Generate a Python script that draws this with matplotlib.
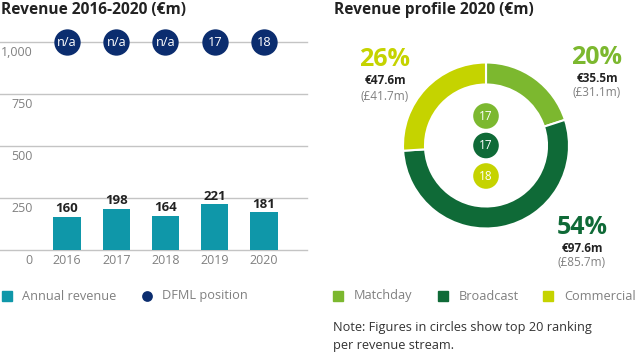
import matplotlib
matplotlib.use('Agg')
import matplotlib.pyplot as plt
import matplotlib.transforms as mtransforms
from matplotlib.patches import Rectangle

plt.rcParams['font.family'] = ['Open Sans', 'DejaVu Sans']

# ── data ──────────────────────────────────────────────────────
years    = ['2016', '2017', '2018', '2019', '2020']
revenue  = [160, 198, 164, 221, 181]
dfml_pos = ['n/a', 'n/a', 'n/a', '17', '18']
yticks   = [0, 250, 500, 750, 1000]
ytick_lbl = ['0', '250', '500', '750', '1,000']

streams   = ['Matchday', 'Broadcast', 'Commercial']
shares    = [20, 54, 26]
eur_vals  = ['€35.5m', '€97.6m', '€47.6m']
gbp_vals  = ['(£31.1m)', '(£85.7m)', '(£41.7m)']
rankings  = ['17', '17', '18']

TEAL, NAVY = '#0f97a9', '#0b2d6f'
GREENS = ['#7cb82f', '#0f6a37', '#c5d300']
GREY, GRID, DARK = '#808080', '#c4c4c4', '#222222'

W, H = 640, 354
fig = plt.figure(figsize=(W/100, H/100), dpi=100)

def px(x0, y0, w, h):  # pixel box (top-left origin) -> fig fraction
    return [x0/W, 1 - (y0 + h)/H, w/W, h/H]

# ── left: bar chart ──────────────────────────────────────────
ax = fig.add_axes(px(0, 42, 307, 208))
x = list(range(len(years)))
ax.bar(x, revenue, width=0.55, color=TEAL, zorder=2)
ax.set_xlim(-1.36, 4.873); ax.set_ylim(0, 1000)
for s in ax.spines.values(): s.set_visible(False)
ax.set_xticks([]); ax.set_yticks([])
for t in yticks:
    ax.axhline(t, color=GRID, lw=1, zorder=1, clip_on=False)

blend = mtransforms.blended_transform_factory(ax.transAxes, ax.transData)
for t, lbl in zip(yticks, ytick_lbl):
    tr = mtransforms.offset_copy(blend, fig=fig, x=0, y=-10, units='dots')
    ax.text(33/307, t, lbl, transform=tr, ha='right', va='center',
            fontsize=9, color=GREY)
for i, (yr, v) in enumerate(zip(years, revenue)):
    tr = mtransforms.offset_copy(ax.transData, fig=fig, x=0, y=-11, units='dots')
    ax.text(i, 0, yr, transform=tr, ha='center', va='center', fontsize=9, color=GREY)
    tr = mtransforms.offset_copy(ax.transData, fig=fig, x=0, y=4.5, units='dots')
    ax.text(i, v, str(v), transform=tr, ha='center', va='baseline',
            fontsize=9.5, fontweight='bold', color=DARK)

ax.scatter(x, [1000]*len(x), s=360, color=NAVY, zorder=5, clip_on=False, lw=0)
for i, p in enumerate(dfml_pos):
    ax.text(i, 1000, p, ha='center', va='center', fontsize=9.2, color='white', zorder=6)

# ── right: donut ─────────────────────────────────────────────
cx, cy, R = 486, 145.5, 83
ax2 = fig.add_axes(px(cx - 90, cy - 90, 180, 180))
ax2.pie(shares, colors=GREENS, startangle=90, counterclock=False, radius=R,
        wedgeprops=dict(width=22, edgecolor='white', linewidth=1.5))
ax2.set_xlim(-90, 90); ax2.set_ylim(-90, 90); ax2.axis('off')

# ── overlay: titles, labels, legends ─────────────────────────
ov = fig.add_axes([0, 0, 1, 1], zorder=10)
ov.set_xlim(0, W); ov.set_ylim(H, 0); ov.axis('off')

ov.text(1, 14.5, 'Revenue 2016-2020 (€m)', fontsize=11.2, fontweight='bold',
        color=DARK, va='baseline')
ov.text(334, 14.5, 'Revenue profile 2020 (€m)', fontsize=11.2, fontweight='bold',
        color=DARK, va='baseline')

# small ranking circles
rank_y = [116, 145.5, 176]
ov.scatter([cx]*3, rank_y, s=340, color=GREENS, lw=0, zorder=11)
for yy, r in zip(rank_y, rankings):
    ov.text(cx, yy, r, ha='center', va='center', fontsize=8.5, color='white', zorder=12)

# slice annotations (Matchday, Broadcast, Commercial)
lab_pos = [(597, 57), (582, 227), (385, 60)]
for (lx, ly), sh, e, g, c in zip(lab_pos, shares, eur_vals, gbp_vals, GREENS):
    ov.text(lx, ly, f'{sh}%', ha='center', va='center', fontsize=18,
            fontweight='bold', color=c)
    ov.text(lx, ly + 21, e, ha='center', va='center', fontsize=8.5,
            fontweight='bold', color=DARK)
    ov.text(lx, ly + 36, g, ha='center', va='center', fontsize=8.5, color=GREY)

# legends
ly = 296
ov.add_patch(Rectangle((2, ly - 5), 10, 10, color=TEAL))
ov.text(22, ly, 'Annual revenue', va='center', fontsize=9.2, color=GREY)
ov.scatter([147], [ly], s=60, color=NAVY, lw=0)
ov.text(162, ly, 'DFML position', va='center', fontsize=9.2, color=GREY)
for x0, name, c in zip([333, 438, 543], streams, GREENS):
    ov.add_patch(Rectangle((x0, ly - 5), 10, 10, color=c))
    ov.text(x0 + 21, ly, name, va='center', fontsize=9.2, color=GREY)

ov.text(333, 327, 'Note: Figures in circles show top 20 ranking', va='center',
        fontsize=9.2, color='#333333')
ov.text(333, 345, 'per revenue stream.', va='center', fontsize=9.2, color='#333333')

fig.savefig('out.png', dpi=100)
